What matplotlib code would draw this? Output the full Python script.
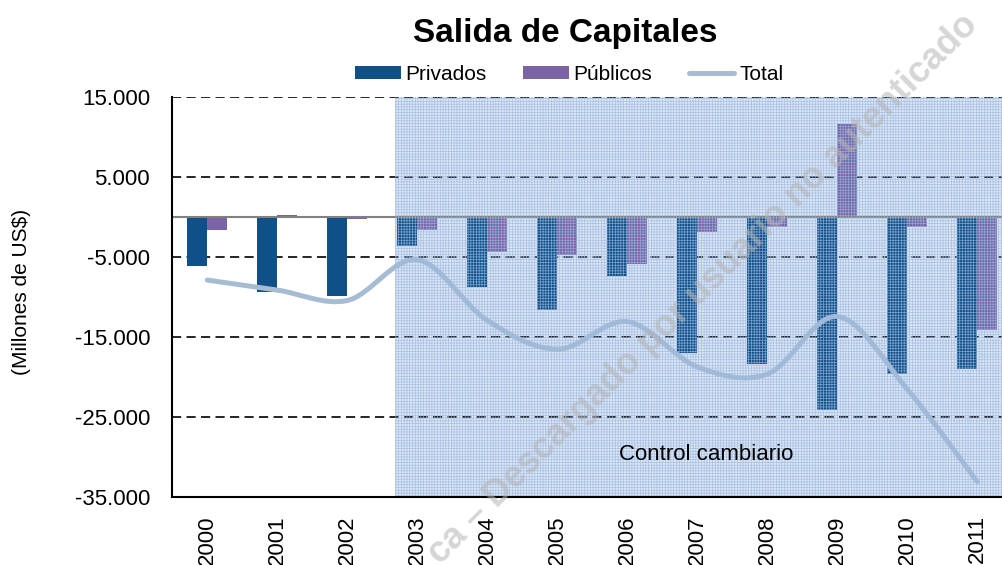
import numpy as np
import matplotlib
matplotlib.use("Agg")
import matplotlib.pyplot as plt
from matplotlib.patches import Rectangle, Patch
from matplotlib.lines import Line2D
from matplotlib.path import Path
from matplotlib.patches import PathPatch

# ---------------- data ----------------
years = ["2000", "2001", "2002", "2003", "2004", "2005",
         "2006", "2007", "2008", "2009", "2010", "2011"]
privados = [-6050, -9400, -9900, -3600, -8750, -11600,
            -7400, -16950, -18300, -24100, -19600, -18900]
publicos = [-1630, 290, -250, -1600, -4350, -4750,
            -5850, -1900, -1170, 11650, -1170, -14050]
total = [-7850, -9100, -10400, -5300, -12900, -16500,
         -13050, -18700, -19600, -12400, -21500, -33050]
ytick_vals = [15000, 5000, -5000, -15000, -25000, -35000]
ytick_labels = ["15.000", "5.000", "-5.000", "-15.000", "-25.000", "-35.000"]

FONT = "Liberation Sans"
plt.rcParams["font.family"] = [FONT, "DejaVu Sans"]
plt.rcParams["hatch.linewidth"] = 0.5

C_PRIV = "#0F5088"
C_PUB = "#7A64A6"
C_TOT = "#A6BCD3"

W, H = 1002, 565
fig = plt.figure(figsize=(W / 100, H / 100), dpi=100)
ax_left = 172.3 / W
ax_bottom = 1 - 497.3 / H
ax_top = 1 - 97.3 / H
ax_right = 1012.3 / W
ax = fig.add_axes([ax_left, ax_bottom, ax_right - ax_left, ax_top - ax_bottom])

x = np.arange(len(years))
ax.set_xlim(-0.5, len(years) - 0.5)
ax.set_ylim(-35000, 15000)

# shaded "control cambiario" region
shade_start = 2.68
ax.add_patch(Rectangle((shade_start, -35000), 20, 50000, facecolor="#DCE6F5",
                       edgecolor="none", zorder=0))

# gridlines
for v in ytick_vals[:-1]:
    ax.axhline(v, color="black", lw=1.2, ls=(0, (5.5, 3.2)), zorder=1)

bw = 0.2857
ax.bar(x - bw / 2, privados, width=bw, color=C_PRIV, zorder=2, linewidth=0)
ax.bar(x + bw / 2, publicos, width=bw, color=C_PUB, zorder=2, linewidth=0)

# zero line
ax.axhline(0, color="#808080", lw=1.5, zorder=3)

# smoothed total line (Excel-like Bezier smoothing)
pts = np.column_stack([x, np.array(total, dtype=float)])
verts = [tuple(pts[0])]
codes = [Path.MOVETO]
n = len(pts)
for i in range(n - 1):
    p0 = pts[i - 1] if i > 0 else pts[i]
    p1 = pts[i]
    p2 = pts[i + 1]
    p3 = pts[i + 2] if i + 2 < n else pts[i + 1]
    c1 = p1 + (p2 - p0) / 6.0
    c2 = p2 - (p3 - p1) / 6.0
    verts += [tuple(c1), tuple(c2), tuple(p2)]
    codes += [Path.CURVE4] * 3
ax.add_patch(PathPatch(Path(verts, codes), facecolor="none", edgecolor=C_TOT,
                       lw=3.6, capstyle="round", zorder=4))

# grid texture over shaded region
ax.add_patch(Rectangle((shade_start, -35000), 20, 50000, facecolor="none",
                       edgecolor="#9AB7E0", hatch="++++++", lw=0, alpha=0.8,
                       zorder=5))

ax.text(7.12, -29700, "Control cambiario", fontsize=16, ha="center",
        va="center", zorder=6)

# spines
for s in ["top", "right"]:
    ax.spines[s].set_visible(False)
ax.spines["left"].set_linewidth(1.5)
ax.spines["bottom"].set_linewidth(1.5)
ax.spines["left"].set_zorder(7)
ax.spines["bottom"].set_zorder(7)

ax.set_yticks(ytick_vals)
ax.set_yticklabels(ytick_labels)
ax.set_xticks(x)
ax.set_xticklabels(years, rotation=90)
ax.tick_params(axis="y", length=0, pad=16, labelsize=16)
ax.tick_params(axis="x", length=0, pad=13, labelsize=16)

fig.text(22 / W, 1 - 292 / H, "(Millones de US$)", rotation=90, fontsize=15,
         ha="center", va="center")

fig.text(565 / W, 1 - 42 / H, "Salida de Capitales", fontsize=24,
         fontweight="bold", ha="center", va="baseline")

handles = [Patch(facecolor=C_PRIV, edgecolor="none"),
           Patch(facecolor=C_PUB, edgecolor="none"),
           Line2D([0], [0], color=C_TOT, lw=3.6, solid_capstyle="round")]
fig.legend(handles, ["Privados", "Públicos", "Total"], loc="center",
           bbox_to_anchor=(569 / W, 1 - 74 / H), ncol=3, frameon=False,
           fontsize=15, handlelength=2.2, handleheight=0.58,
           handletextpad=0.22, columnspacing=1.75, borderpad=0,
           borderaxespad=0)

# watermark
fig.text(972 / W, 1 - 20 / H, "ca – Descargado por usuario no autenticado",
         fontsize=26, fontweight="bold", color="#B4B4B4", alpha=0.55,
         rotation=45, rotation_mode="anchor", ha="right", va="center",
         zorder=10)

fig.savefig("out.png", dpi=100)
